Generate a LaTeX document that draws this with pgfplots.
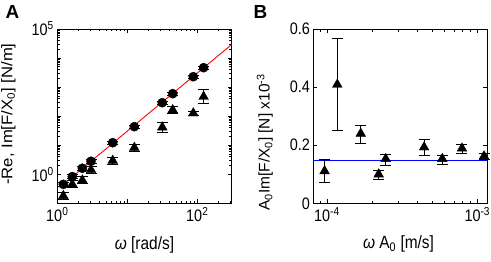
\documentclass[border=0pt]{standalone}
\usepackage{fontspec}
\setmainfont{Liberation Sans}
\usepackage{graphicx}
\usepackage{pgfplots}
\usepackage{pgfplotstable}
\pgfplotsset{compat=1.18}
\newcommand{\vs}[1]{\scalebox{1}[1.15]{#1}}

\pgfplotstableread{
x y ep em
1.22 0.45 0.067 0.058
1.64 0.83 0.123 0.107
2.28 1.61 0.238 0.208
3.03 2.80 0.414 0.361
6.19 12.2 1.81 1.57
12.6 43.4 6.42 5.60
31.6 291 43.1 37.5
44.5 594 87.9 76.6
87.7 2285 338 295
123 4660 690 601
}\circA

\pgfplotstableread{
x y ep em
1.22 0.18 0.057 0.043
1.64 0.45 0.143 0.108
2.28 0.62 0.197 0.149
3.03 1.41 0.448 0.340
6.19 2.94 0.935 0.709
12.6 8.2 2.61 1.98
31.6 41.4 19.8 13.4
44.5 163 51.8 39.3
87.7 126 25.5 21.2
123 468 345 199
}\triA

\pgfplotstableread{
x y ep em
9.66e-5 0.111 0.040 0.040
1.173e-4 0.409 0.157 0.157
1.68e-4 0.240 0.029 0.034
2.21e-4 0.100 0.014 0.018
2.46e-4 0.153 0.017 0.024
4.43e-4 0.193 0.028 0.027
5.85e-4 0.153 0.013 0.019
7.91e-4 0.189 0.014 0.016
1.108e-3 0.162 0.010 0.010
}\triB

\pgfplotsset{
  myax/.style={
    scale only axis, anchor=south west,
    tick align=inside,
    axis line style={line width=0.8bp},
    major tick length=4bp, minor tick length=2.5bp,
    every tick/.style={black, line width=0.6bp},
    every minor tick/.style={black, line width=0.6bp},
    tick label style={font=\fontsize{14.5}{14.5}\selectfont},
    label style={font=\fontsize{15.5}{15.5}\selectfont},
    xticklabel style={yshift=-1bp},
    clip=false,
  },
  myerr/.style={
    error bars/.cd, y dir=both, y explicit,
    error bar style={line width=0.8bp, black},
    error mark options={rotate=90, mark size=5.5bp, line width=0.8bp, black},
  },
}

\begin{document}
\begin{tikzpicture}[x=1bp,y=1bp]
\path[use as bounding box] (0,0) rectangle (491,261);

\begin{axis}[myax,
  at={(57.3bp,57.7bp)}, width=174.4bp, height=174.3bp,
  xmode=log, ymode=log,
  xmin=1, xmax=310, ymin=0.1, ymax=1e5,
  xtick={1,10,100}, xticklabels={\vs{10\textsuperscript{0}},,\vs{10\textsuperscript{2}}},
  minor xtick={2,3,4,5,6,7,8,9,20,30,40,50,60,70,80,90,200,300},
  ytick={1,10,100,1000,10000,100000},
  yticklabels={\vs{10\textsuperscript{0}},,,,,\vs{10\textsuperscript{5}}},
  minor ytick={},
  xlabel={\vs{{\itshape ω} [rad/s]}},
  ylabel={\scalebox{1.08}[1]{-Re, Im[F/X\textsubscript{0}] [N/m]}},
  xlabel style={at={(axis description cs:0.5,-0.239)}, anchor=center},
  ylabel style={at={(axis description cs:-0.281,0.512)}, anchor=center},
]
\addplot[red, line width=0.9bp] coordinates {(1.22,0.454) (310,29310)};
\addplot[only marks, mark=*, black, mark size=4.6bp, myerr]
  table[x=x, y=y, y error plus=ep, y error minus=em] {\circA};
\addplot[only marks, mark=triangle*, black, mark size=5.6bp, myerr]
  table[x=x, y=y, y error plus=ep, y error minus=em] {\triA};
\end{axis}

\begin{axis}[myax,
  at={(313.5bp,57.7bp)}, width=173.5bp, height=174.3bp,
  xmode=log,
  xmin=8.15e-5, xmax=1.16e-3, ymin=0, ymax=0.6,
  xtick={1e-4,1e-3}, xticklabels={\vs{10\textsuperscript{-4}},\vs{10\textsuperscript{-3}}},
  minor xtick={9e-5,2e-4,3e-4,4e-4,5e-4,6e-4,7e-4,8e-4,9e-4},
  ytick={0,0.2,0.4,0.6}, yticklabels={\vs{0},\vs{0.2},\vs{0.4},\vs{0.6}},
  xlabel={\vs{{\itshape ω} A\textsubscript{0} [m/s]}},
  ylabel={A\textsubscript{0}Im[F/X\textsubscript{0}] [N] x10\textsuperscript{-3}},
  xlabel style={at={(axis description cs:0.49,-0.234)}, anchor=center},
  ylabel style={at={(axis description cs:-0.28,0.349)}, anchor=center},
]
\addplot[blue, line width=1.1bp] coordinates {(8.15e-5,0.147) (1.16e-3,0.147)};
\addplot[only marks, mark=triangle*, black, mark size=5.6bp, myerr]
  table[x=x, y=y, y error plus=ep, y error minus=em] {\triB};
\end{axis}

\node[font=\bfseries\fontsize{19}{19}\selectfont] at (12.5,249.5) {A};
\node[font=\bfseries\fontsize{19}{19}\selectfont] at (260.5,249.5) {B};
\end{tikzpicture}
\end{document}
